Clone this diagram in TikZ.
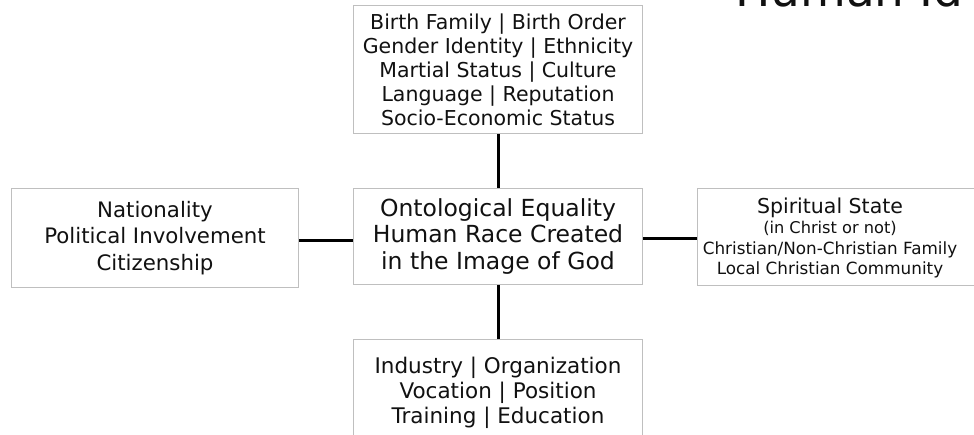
\documentclass[tikz,border=0pt]{standalone}
\usepackage{fontspec}
\setmainfont{DejaVu Sans}
\definecolor{boxgray}{HTML}{BFBFBF}
\definecolor{inktext}{HTML}{111111}
\begin{document}
\begin{tikzpicture}[x=1pt,y=-1pt,
  box/.style={draw=boxgray, line width=1pt, fill=white, inner sep=0pt, align=center, text=inktext},
  link/.style={line width=3pt, black}]
\useasboundingbox (0,0) rectangle (974,435);
% title (cut by the page)
\node[anchor=base west, inner sep=0pt, text=inktext, font=\fontsize{47}{47}\selectfont] (title) at (735,7) {Human Id};
% boxes
\node[box, anchor=north west, minimum width=289pt, minimum height=128pt,
      font=\fontsize{20.5}{24}\selectfont] (top) at (353,5)
  {Birth Family | Birth Order\\Gender Identity | Ethnicity\\Martial Status | Culture\\Language | Reputation\\Socio-Economic Status};
\node[box, anchor=north west, minimum width=289pt, minimum height=96pt,
      font=\fontsize{23.5}{26.5}\selectfont] (mid) at (353,188)
  {Ontological Equality\\Human Race Created\\in the Image of God};
\node[box, anchor=north west, minimum width=287pt, minimum height=99pt,
      font=\fontsize{21.3}{26.5}\selectfont] (left) at (11,188)
  {Nationality\\Political Involvement\\Citizenship};
\node[box, anchor=north west, minimum width=280pt, minimum height=97pt] (right) at (697,188) {};
\node[inner sep=0pt, align=center, text=inktext, font=\fontsize{16.8}{20.5}\selectfont] (righttext) at (830,238)
  {{\fontsize{20.5}{20.5}\selectfont Spiritual State}\\{\fontsize{16.2}{20.5}\selectfont (in Christ or not)}\\Christian/Non-Christian Family\\Local Christian Community};
\node[box, anchor=north west, minimum width=289pt, minimum height=106pt,
      font=\fontsize{21.5}{25}\selectfont] (bottom) at (353,339)
  {Industry | Organization\\Vocation | Position\\Training | Education};
% connectors
\draw[link] (top.south) -- (mid.north);
\draw[link] (mid.south) -- (bottom.north);
\draw[link] ([yshift=-2.5pt]left.east) -- ([yshift=-2.5pt]left.east -| mid.west);
\draw[link] ([yshift=-2.5pt]mid.east) -- ([yshift=-2.5pt]mid.east -| right.west);
\end{tikzpicture}
\end{document}
